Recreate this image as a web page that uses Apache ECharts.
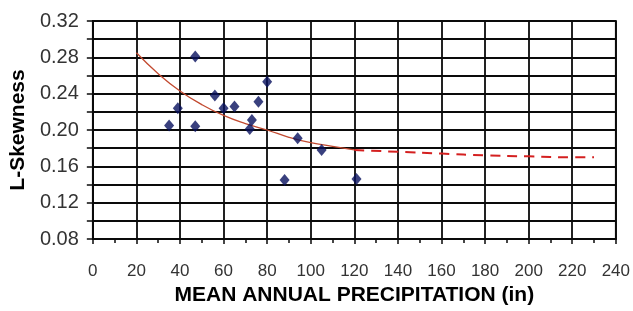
<!DOCTYPE html>
<html>
<head>
<meta charset="utf-8">
<script src="https://cdn.jsdelivr.net/npm/echarts@6/dist/echarts.min.js"></script>
<style>
  html, body { margin: 0; padding: 0; background: #fff; }
</style>
</head>
<body>
<div id="chartDiv" style="width: 633px;height:311px;"></div>
<script type="text/javascript">
    // observed stations: precipitation (in) and L-skewness
    let precip = [35, 39, 47, 47, 56, 60, 65, 72, 73, 76, 80, 88, 94, 105, 121];
    let lskew = [0.205, 0.224, 0.281, 0.204, 0.238, 0.224, 0.226, 0.201, 0.211, 0.231, 0.253, 0.145, 0.191, 0.178, 0.146];

    // fitted curve (solid) and its extrapolation (dashed)
    let fitX = [20, 30, 40, 50, 60, 70, 80, 90, 100, 110, 120];
    let fitY = [0.285, 0.262, 0.243, 0.228, 0.216, 0.207, 0.200, 0.192, 0.186, 0.182, 0.178];
    let extX = [120, 140, 160, 180, 200, 220, 230];
    let extY = [0.178, 0.176, 0.174, 0.172, 0.171, 0.170, 0.170];

    let xTicks = [0, 20, 40, 60, 80, 100, 120, 140, 160, 180, 200, 220, 240];
    let yTicks = ['0.08', '0.12', '0.16', '0.20', '0.24', '0.28', '0.32'];

    function pairs(xs, ys) {
        return xs.map(function (x, i) { return [x, ys[i]]; });
    }

    let gridLine = { show: true, lineStyle: { color: '#0a0a0a', width: 1.8 } };

    let myChart = echarts.init(document.getElementById('chartDiv'));
    let option = {
        animation: false,
        backgroundColor: '#fff',
        grid: { left: 91, right: 17, top: 21, bottom: 72, show: true, borderColor: '#0a0a0a', borderWidth: 1.8 },
        xAxis: {
            type: 'value',
            min: xTicks[0],
            max: xTicks[xTicks.length - 1],
            interval: 20,
            name: 'MEAN ANNUAL PRECIPITATION (in)',
            nameLocation: 'middle',
            nameGap: 44,
            nameTextStyle: { fontFamily: 'Liberation Sans', fontWeight: 'bold', fontSize: 21, color: '#000' },
            axisLine: { lineStyle: { color: '#0a0a0a', width: 1.8 } },
            axisTick: { show: true, length: 5, lineStyle: { color: '#0a0a0a', width: 1.5 } },
            minorTick: { show: true, splitNumber: 2, length: 4, lineStyle: { color: '#0a0a0a', width: 1.5 } },
            splitLine: gridLine,
            axisLabel: { fontFamily: 'Liberation Sans', fontSize: 17, color: '#333', margin: 24 }
        },
        yAxis: {
            type: 'value',
            min: Number(yTicks[0]),
            max: Number(yTicks[yTicks.length - 1]),
            interval: 0.04,
            name: 'L-Skewness',
            nameLocation: 'middle',
            nameGap: 62,
            nameTextStyle: { fontFamily: 'Liberation Sans', fontWeight: 'bold', fontSize: 21, color: '#000' },
            axisLine: { lineStyle: { color: '#0a0a0a', width: 1.8 } },
            axisTick: { show: true, length: 6, lineStyle: { color: '#0a0a0a', width: 1.5 } },
            minorTick: { show: true, splitNumber: 2, length: 6, lineStyle: { color: '#0a0a0a', width: 1.5 } },
            splitLine: gridLine,
            minorSplitLine: gridLine,
            axisLabel: {
                fontFamily: 'Liberation Sans', fontSize: 20, color: '#333', margin: 14,
                formatter: function (v) {
                    let s = v.toFixed(2);
                    return yTicks.indexOf(s) >= 0 ? s : '';
                }
            }
        },
        series: [
            {
                name: 'fit',
                type: 'line',
                data: pairs(fitX, fitY),
                smooth: true,
                showSymbol: false,
                lineStyle: { color: '#c24a30', width: 1.3 },
                z: 3
            },
            {
                name: 'extrapolation',
                type: 'line',
                data: pairs(extX, extY),
                smooth: true,
                showSymbol: false,
                lineStyle: { color: '#d42020', width: 2, type: [10, 7] },
                z: 3
            },
            {
                name: 'stations',
                type: 'scatter',
                data: pairs(precip, lskew),
                symbol: 'diamond',
                symbolSize: [10, 12],
                itemStyle: { color: '#08105e' },
                z: 4
            }
        ]
    };
    myChart.setOption(option);
</script>
</body>
</html>
